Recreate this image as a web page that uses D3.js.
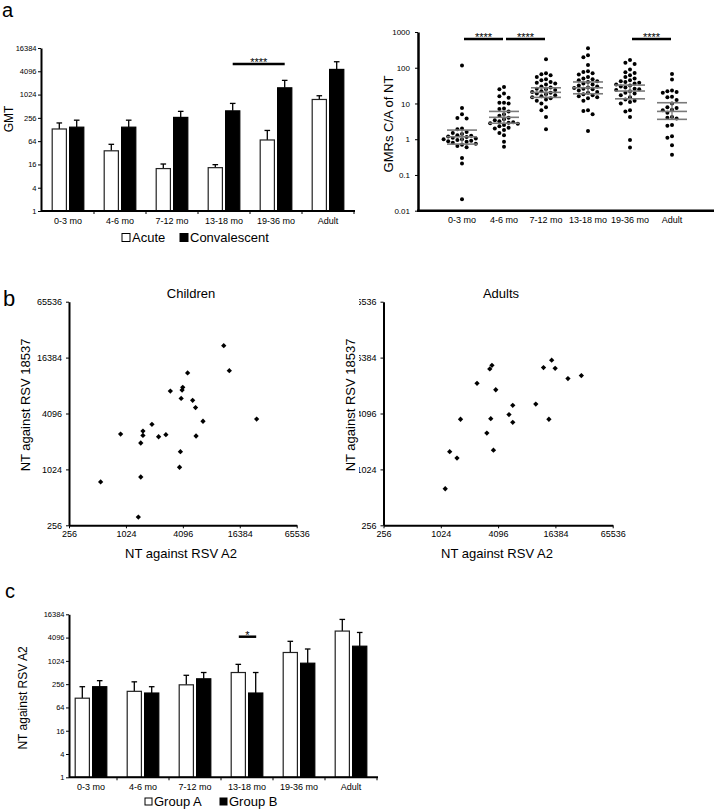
<!DOCTYPE html>
<html><head><meta charset="utf-8">
<script src="https://cdn.jsdelivr.net/npm/d3@7"></script>
<style>
body{margin:0;background:#fff}
svg text{font-family:"Liberation Sans",Arial,sans-serif;fill:#000}
</style>
</head><body>
<svg id="fig" width="716" height="810"></svg>
<script>
// ---------- DATA ----------
const categories = ["0-3 mo","4-6 mo","7-12 mo","13-18 mo","19-36 mo","Adult"];
const gmtTicks = [1,4,16,64,256,1024,4096,16384];

// panel a (left): GMT acute vs convalescent
const acuteGMT   = [132, 36, 12.5, 13.2, 68.6, 765];
const acuteUpper = [189, 53, 16.4, 15.8, 121, 955];
const convGMT    = [147, 147, 263, 388, 1531, 4575];
const convUpper  = [223, 223, 377, 605, 2386, 7230];

// panel a (right): GMRs C/A of NT per individual
const gmrTicks = [0.01,0.1,1,10,100,1000];
const gmr0to3  = [115,7.5,5.0,3.9,3.8,2.0,1.9,1.6,1.5,1.4,1.3,1.25,1.2,1.15,1.1,1.05,1.0,1.0,0.95,0.9,0.88,0.85,0.8,0.75,0.7,0.65,0.6,0.3,0.21,0.021];
const gmr4to6  = [29,25,19,16,14.5,10.5,10,10.5,7.2,7.0,6.0,5.0,4.5,4.0,3.6,3.4,3.2,3.0,2.9,2.8,2.7,2.5,2.3,2.1,2.0,1.8,1.5,1.3,0.85,0.62];
const gmr7to12 = [172,70,66,62,55,48,45,40,38,36,34,30,28,26,25,24,22,21,20,19,18,17,16,15,14,13,12,10,7.8,6.5,4.2,1.9];
const gmr13to18= [349,222,195,119,80,76,70,65,55,50,48,45,42,40,36,34,32,30,28,27,26,25,23,21,20,18,17,16,15,14,12,6.5,6.2,5.0,1.7];
const gmr19to36= [164,138,127,90,75,71,62,55,50,45,42,40,38,36,34,32,30,28,26,25,24,22,20,19,17,15,13,12,11,10,6.5,6.0,4.2,0.95,0.59];
const gmrAdult = [66.5,47,23,22,21,20,15.5,15,12.5,10,7.8,7.5,6.7,6.5,5.5,4.2,4.0,3.8,2.5,2.4,1.22,1.1,0.68,0.37];
const gmrMean  = [1.17, 4.1, 20.5, 27.5, 22.3, 6.0];
const gmrUpper = [1.8, 6.0, 27.5, 40, 32.7, 10.5];
const gmrLower = [0.73, 2.8, 14.8, 18.7, 13.5, 3.6];

// panel b: NT against RSV A2 (x) vs RSV 18537 (y)
const ntTicks = [256,1024,4096,16384,65536];
const childrenA2    = [11090,12700,24700,4600,4085,4020,3020,3930,5200,5580,6690,5650,2710,2270,1930,1550,1550,900,1470,3860,3780,1470,553,1385];
const children18537 = [22040,11860,3570,11190,7840,7330,7150,5960,5680,4740,3380,2345,2420,2300,3130,2650,2380,2460,1970,1590,1080,848,750,314];
const adultsA2      = [14970,12290,16290,22200,30700,3530,3350,2460,3870,5840,10200,5330,5840,14000,3430,1650,3120,3660,1270,1515,1140];
const adults18537   = [15380,12780,12550,9750,10500,13520,12360,8660,7380,5020,5180,3990,3290,3550,3600,3550,2520,1650,1590,1357,634];

// panel c: NT against RSV A2, Group A vs Group B
const groupA      = [111, 167, 246, 512, 1687, 6037];
const groupAUpper = [220, 294, 434, 832, 3281, 12077];
const groupB      = [220, 151, 352, 151, 891, 2452];
const groupBUpper = [315, 220, 512, 512, 2076, 5556];

// ---------- DRAWING ----------
const svg = d3.select("#fig");
const fmtInt = d3.format("d");

function styleAxis(g, fs, w) {
  g.select(".domain").attr("stroke","#000").attr("stroke-width",w);
  g.selectAll(".tick line").attr("stroke","#000").attr("stroke-width",1);
  g.selectAll(".tick text").attr("font-size",fs).attr("fill","#000")
   .attr("font-family",'"Liberation Sans",Arial,sans-serif');
}

function panelLabel(txt, x, y, fs) {
  svg.append("text").attr("x",x).attr("y",y).attr("font-size",fs).text(txt);
}

// grouped bar chart with upper error whiskers
function barPanel(opt) {
  const g = svg.append("g");
  const x = d3.scaleBand().domain(categories).range(opt.xRange);
  const y = d3.scaleLog().base(4).domain([1,16384]).range(opt.yRange);
  const bw = 14.2, c = x.bandwidth()/2;
  const series = [
    {vals: opt.s1, up: opt.s1Up, off: -15.8, fill:"#fff"},
    {vals: opt.s2, up: opt.s2Up, off: 1.6, fill:"#000"}
  ];
  series.forEach(s => {
    const cx = (d) => x(d) + c + s.off + bw/2;
    g.selectAll(null).data(categories).join("line")
      .attr("x1",cx).attr("x2",cx)
      .attr("y1",(d,i)=>y(s.vals[i])).attr("y2",(d,i)=>y(s.up[i]))
      .attr("stroke","#000").attr("stroke-width",1.3);
    g.selectAll(null).data(categories).join("line")
      .attr("x1",d=>cx(d)-2.8).attr("x2",d=>cx(d)+2.8)
      .attr("y1",(d,i)=>y(s.up[i])).attr("y2",(d,i)=>y(s.up[i]))
      .attr("stroke","#000").attr("stroke-width",1.3);
    g.selectAll(null).data(categories).join("rect")
      .attr("x",d=>x(d)+c+s.off).attr("width",bw)
      .attr("y",(d,i)=>y(s.vals[i])).attr("height",(d,i)=>y(1)-y(s.vals[i]))
      .attr("fill",s.fill).attr("stroke",s.fill==="#fff"?"#222":"#000").attr("stroke-width",1.2);
  });
  g.append("g").attr("transform",`translate(${opt.axisX},0)`)
    .call(d3.axisLeft(y).tickValues(gmtTicks).tickFormat(fmtInt).tickSize(3).tickSizeOuter(0).tickPadding(1.5))
    .call(styleAxis, opt.tickFs, 2);
  g.append("line").attr("x1",opt.axisX).attr("x2",opt.xRange[1]+1)
    .attr("y1",y(1)).attr("y2",y(1)).attr("stroke","#000").attr("stroke-width",2);
  g.selectAll(null).data(categories.slice(1).concat(["end"])).join("line")
    .attr("x1",d=> d==="end"? opt.xRange[1] : x(d)).attr("x2",d=> d==="end"? opt.xRange[1] : x(d))
    .attr("y1",y(1)).attr("y2",y(1)+3).attr("stroke","#000").attr("stroke-width",1);
  g.selectAll(null).data(categories).join("text")
    .attr("x",d=>x(d)+c).attr("y",opt.catY).attr("text-anchor","middle")
    .attr("font-size",9).text(d=>d);
  g.append("text").attr("transform",`translate(${opt.yLabX},${opt.yLabY}) rotate(-90)`)
    .attr("text-anchor","middle").attr("font-size",opt.yLabFs).text(opt.yLab);
  const sx = (d, off) => x(d) + c + off + bw/2;
  const s0 = sx(opt.sig[0], opt.sigOff[0]), s1 = sx(opt.sig[1], opt.sigOff[1]);
  g.append("line").attr("x1",s0).attr("x2",s1).attr("y1",opt.sigY).attr("y2",opt.sigY)
    .attr("stroke","#000").attr("stroke-width",2.5);
  g.append("text").attr("x",(s0+s1)/2).attr("y",opt.sigY+2).attr("text-anchor","middle")
    .attr("font-size",11).text(opt.sigTxt);
  const L = opt.legend;
  L.items.forEach((it,k) => {
    g.append("rect").attr("x",L.xs[k]).attr("y",L.y-8).attr("width",L.sq).attr("height",L.sq)
      .attr("fill",k===0?"#fff":"#000").attr("stroke","#000").attr("stroke-width",1);
    g.append("text").attr("x",L.xs[k]+L.sq+2).attr("y",L.y).attr("font-size",13).text(it);
  });
  return {x,y};
}

// ---- panel a left ----
panelLabel("a", 2, 17, 20);
barPanel({
  xRange:[42,354], yRange:[211,48], axisX:41, tickFs:7.5, catY:224,
  s1:acuteGMT, s1Up:acuteUpper, s2:convGMT, s2Up:convUpper,
  yLab:"GMT", yLabX:13, yLabY:119, yLabFs:12,
  sig:["13-18 mo","19-36 mo"], sigOff:[1.6,1.6], sigY:64, sigTxt:"****",
  legend:{items:["Acute","Convalescent"], xs:[122,180], y:241.5, sq:8}
});

// ---- panel a right: dot plot ----
(function(){
  const g = svg.append("g");
  const x = d3.scalePoint().domain(categories).range([420,714]).padding(1);
  const y = d3.scaleLog().domain([0.01,1000]).range([210.7,32]);
  const groups = [gmr0to3,gmr4to6,gmr7to12,gmr13to18,gmr19to36,gmrAdult];
  const r = 2.0, step = 4.6;
  groups.forEach((vals,ci) => {
    const placed = [];
    const cx0 = x(categories[ci]);
    vals.slice().sort((a,b)=>b-a).forEach(v => {
      const py = y(v);
      let k = 0, px;
      while (true) {
        const off = (k===0)?0:((k%2===1)?-1:1)*Math.ceil(k/2)*step;
        px = cx0 + off;
        const hit = placed.some(p => (p[0]-px)**2 + (p[1]-py)**2 < (2*r+0.5)**2);
        if (!hit) break;
        k++;
      }
      placed.push([px,py]);
    });
    g.selectAll(null).data(placed).join("circle")
      .attr("cx",d=>d[0]).attr("cy",d=>d[1]).attr("r",r).attr("fill","#000");
  });
  const hw = 15;
  [gmrUpper,gmrMean,gmrLower].forEach(arr => {
    g.selectAll(null).data(categories).join("line")
      .attr("x1",d=>x(d)-hw).attr("x2",d=>x(d)+hw)
      .attr("y1",(d,i)=>y(arr[i])).attr("y2",(d,i)=>y(arr[i]))
      .attr("stroke","#7a7a7a").attr("stroke-width",1.6);
  });
  g.selectAll(null).data(categories).join("line")
    .attr("x1",d=>x(d)).attr("x2",d=>x(d))
    .attr("y1",(d,i)=>y(gmrLower[i])).attr("y2",(d,i)=>y(gmrUpper[i]))
    .attr("stroke","#7a7a7a").attr("stroke-width",1.3);
  g.append("g").attr("transform","translate(418,0)")
    .call(d3.axisLeft(y).tickValues(gmrTicks).tickFormat(d=>String(d)).tickSize(3).tickSizeOuter(0).tickPadding(5))
    .call(styleAxis, 8, 2.5);
  g.append("line").attr("x1",417).attr("x2",714).attr("y1",y(0.01)).attr("y2",y(0.01))
    .attr("stroke","#000").attr("stroke-width",2.5);
  g.selectAll(null).data(categories).join("text")
    .attr("x",d=>x(d)).attr("y",222.5).attr("text-anchor","middle").attr("font-size",9).text(d=>d);
  g.append("text").attr("transform","translate(392.5,124) rotate(-90)")
    .attr("text-anchor","middle").attr("font-size",13).text("GMRs C/A of NT");
  const sigPairs = [["0-3 mo","4-6 mo"],["4-6 mo","7-12 mo"],["19-36 mo","Adult"]];
  sigPairs.forEach(p => {
    const a = x(p[0])+2, b = x(p[1])-1;
    g.append("line").attr("x1",a).attr("x2",b).attr("y1",39).attr("y2",39)
      .attr("stroke","#000").attr("stroke-width",2.5);
    g.append("text").attr("x",(a+b)/2).attr("y",41).attr("text-anchor","middle")
      .attr("font-size",11).text("****");
  });
})();

// ---- panel b: scatter plots ----
panelLabel("b", 3, 306, 22);
function scatter(opt) {
  const g = svg.append("g");
  const x = d3.scaleLog().base(4).domain([256,65536]).range(opt.xRange);
  const y = d3.scaleLog().base(4).domain([256,65536]).range([525.3,301.7]);
  const x0 = opt.xRange[0];
  const yAx = g.append("g").attr("transform",`translate(${x0},0)`)
    .call(d3.axisLeft(y).tickValues(ntTicks).tickFormat(fmtInt).tickSize(3).tickSizeOuter(0).tickPadding(4))
    .call(styleAxis, 9, 2);
  if (opt.clipX !== undefined) {
    const id = "clipTicks";
    svg.append("clipPath").attr("id",id).append("rect")
      .attr("x",opt.clipX - x0).attr("y",250).attr("width",400).attr("height",320);
    yAx.attr("clip-path",`url(#${id})`);
  }
  g.append("g").attr("transform","translate(0,525.3)")
    .call(d3.axisBottom(x).tickValues(ntTicks).tickFormat(fmtInt).tickSize(3).tickSizeOuter(0).tickPadding(2))
    .call(styleAxis, 9, 2);
  g.selectAll(null).data(opt.xs).join("path")
    .attr("d", d3.symbol(d3.symbolSquare, 14))
    .attr("transform",(d,i)=>`translate(${x(d)},${y(opt.ys[i])}) rotate(45)`)
    .attr("fill","#000");
  g.append("text").attr("x",opt.titleX).attr("y",298).attr("text-anchor","middle")
    .attr("font-size",13).text(opt.title);
  g.append("text").attr("x",opt.xLabX).attr("y",558).attr("text-anchor","middle")
    .attr("font-size",13).text("NT against RSV A2");
  g.append("text").attr("transform",`translate(${opt.yLabX},405) rotate(-90)`)
    .attr("text-anchor","middle").attr("font-size",13).text("NT against RSV 18537");
}
scatter({xRange:[69,296.7], xs:childrenA2, ys:children18537, title:"Children", titleX:191, xLabX:181, yLabX:30});
scatter({xRange:[383.5,612.7], xs:adultsA2, ys:adults18537, title:"Adults", titleX:501, xLabX:497, yLabX:355, clipX:359});

// ---- panel c ----
panelLabel("c", 5, 598, 20);
barPanel({
  xRange:[65,377], yRange:[777.3,614.3], axisX:69, tickFs:7.5, catY:790,
  s1:groupA, s1Up:groupAUpper, s2:groupB, s2Up:groupBUpper,
  yLab:"NT against RSV A2", yLabX:27, yLabY:698, yLabFs:12,
  sig:["13-18 mo","13-18 mo"], sigOff:[-15.8+0.5,1.6+0.5], sigY:636.7, sigTxt:"*",
  legend:{items:["Group A","Group B"], xs:[145,220], y:806, sq:7}
});
</script>
</body></html>
